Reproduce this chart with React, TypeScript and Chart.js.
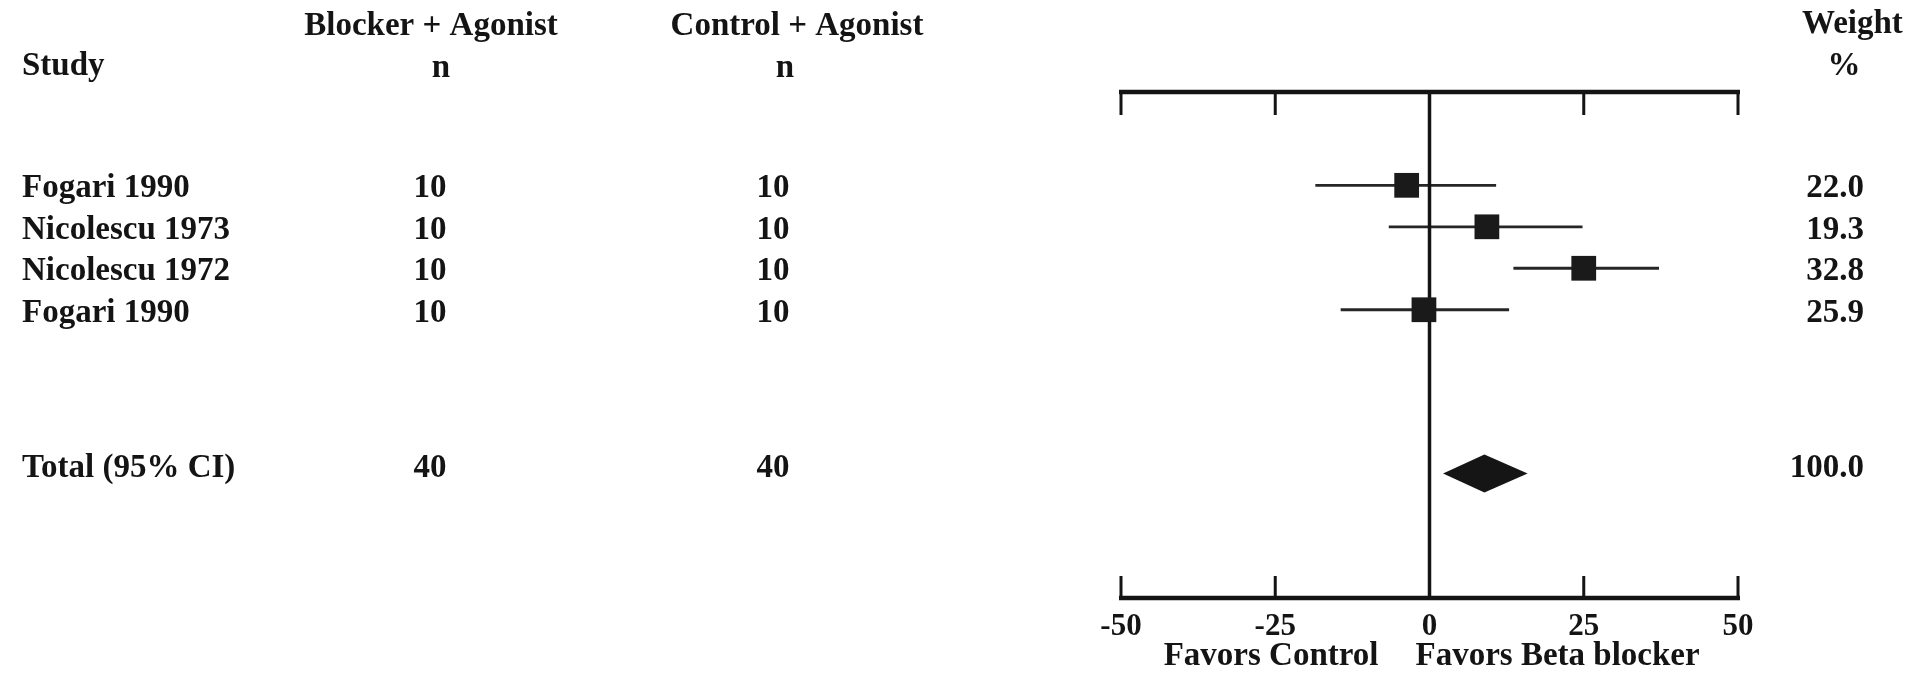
import React, { useEffect, useRef } from 'react';
import { Chart, registerables } from 'chart.js';

Chart.register(...registerables);

// ---- data ----
const studies = ['Fogari 1990', 'Nicolescu 1973', 'Nicolescu 1972', 'Fogari 1990'];
const blockerN = [10, 10, 10, 10];
const controlN = [10, 10, 10, 10];
const effect = [-3.7, 9.3, 25.0, -0.9];
const ciLow = [-18.5, -6.6, 13.6, -14.4];
const ciHigh = [10.8, 24.8, 37.2, 12.9];
const weights = ['22.0', '19.3', '32.8', '25.9'];
const rowSlots = [2.25, 3.25, 4.25, 5.25];

const totalLabel = 'Total (95% CI)';
const totalBlockerN = [40];
const totalControlN = [40];
const totalEffect = [8.9];
const totalLow = [2.2];
const totalHigh = [15.9];
const totalWeight = ['100.0'];
const totalSlot = [9.2];

const xTicks = [-50, -25, 0, 25, 50];
const headerCols = ['Study', 'Blocker + Agonist', 'Control + Agonist', 'Weight'];
const headerSub = ['n', 'n', '%'];
const favorLabels = ['Favors Control', 'Favors Beta blocker'];

const FONT = '"Liberation Serif", "Times New Roman", serif';
const INK = '#141414';

const forestPlugin = {
  id: 'forest',
  beforeDatasetsDraw(chart: any) {
    const { ctx, chartArea } = chart;
    const x = chart.scales.x;
    const y = chart.scales.y;
    ctx.save();
    // confidence intervals
    ctx.strokeStyle = '#262626';
    ctx.lineWidth = 2.8;
    studies.forEach((_, i) => {
      const py = y.getPixelForValue(rowSlots[i]);
      ctx.beginPath();
      ctx.moveTo(x.getPixelForValue(ciLow[i]), py);
      ctx.lineTo(x.getPixelForValue(ciHigh[i]), py);
      ctx.stroke();
    });
    const top = chartArea.top;
    const bottom = chartArea.bottom;
    const xa = x.getPixelForValue(xTicks[0]);
    const xb = x.getPixelForValue(xTicks[xTicks.length - 1]);
    ctx.strokeStyle = INK;
    // top and bottom axis lines
    ctx.lineWidth = 4.5;
    ctx.beginPath();
    ctx.moveTo(xa - 2, top);
    ctx.lineTo(xb + 2, top);
    ctx.moveTo(xa - 2, bottom);
    ctx.lineTo(xb + 2, bottom);
    ctx.stroke();
    // tick marks
    ctx.lineWidth = 3;
    ctx.beginPath();
    xTicks.forEach((t) => {
      if (t === 0) return;
      const px = x.getPixelForValue(t);
      ctx.moveTo(px, top);
      ctx.lineTo(px, top + 23);
      ctx.moveTo(px, bottom);
      ctx.lineTo(px, bottom - 22);
    });
    ctx.stroke();
    // zero line
    const zx = x.getPixelForValue(0);
    ctx.lineWidth = 3.5;
    ctx.beginPath();
    ctx.moveTo(zx, top);
    ctx.lineTo(zx, bottom);
    ctx.stroke();
    ctx.restore();
  },
  afterDatasetsDraw(chart: any) {
    const { ctx } = chart;
    const x = chart.scales.x;
    const y = chart.scales.y;
    ctx.save();
    // pooled diamond
    const cy = y.getPixelForValue(totalSlot[0]);
    const xl = x.getPixelForValue(totalLow[0]);
    const xr = x.getPixelForValue(totalHigh[0]);
    const xc = x.getPixelForValue(totalEffect[0]);
    ctx.fillStyle = '#151515';
    ctx.beginPath();
    ctx.moveTo(xl, cy);
    ctx.lineTo(xc, cy - 19);
    ctx.lineTo(xr, cy);
    ctx.lineTo(xc, cy + 19);
    ctx.closePath();
    ctx.fill();
    ctx.restore();
  },
  afterDraw(chart: any) {
    const { ctx, chartArea } = chart;
    const x = chart.scales.x;
    const y = chart.scales.y;
    ctx.save();
    ctx.fillStyle = INK;
    ctx.textBaseline = 'alphabetic';
    ctx.font = `bold 33px ${FONT}`;
    // headers
    ctx.textAlign = 'left';
    ctx.fillText(headerCols[0], 22, 75);
    ctx.textAlign = 'center';
    ctx.fillText(headerCols[1], 431, 35);
    ctx.fillText(headerSub[0], 441, 77);
    ctx.fillText(headerCols[2], 797, 35);
    ctx.fillText(headerSub[1], 785, 77);
    ctx.textAlign = 'left';
    ctx.fillText(headerCols[3], 1802, 33);
    ctx.textAlign = 'center';
    ctx.fillText(headerSub[2], 1844, 75);
    // study rows
    studies.forEach((s, i) => {
      const by = y.getPixelForValue(rowSlots[i]) + 12;
      ctx.textAlign = 'left';
      ctx.fillText(s, 22, by);
      ctx.textAlign = 'center';
      ctx.fillText(String(blockerN[i]), 430, by);
      ctx.fillText(String(controlN[i]), 773, by);
      ctx.textAlign = 'right';
      ctx.fillText(weights[i], 1864, by);
    });
    // total row
    const ty = y.getPixelForValue(totalSlot[0]) + 3;
    ctx.textAlign = 'left';
    ctx.fillText(totalLabel, 22, ty);
    ctx.textAlign = 'center';
    ctx.fillText(String(totalBlockerN[0]), 430, ty);
    ctx.fillText(String(totalControlN[0]), 773, ty);
    ctx.textAlign = 'right';
    ctx.fillText(totalWeight[0], 1864, ty);
    // tick labels
    ctx.font = `bold 31px ${FONT}`;
    ctx.textAlign = 'center';
    xTicks.forEach((t) => {
      ctx.fillText(String(t), x.getPixelForValue(t), chartArea.bottom + 37);
    });
    // favours labels
    ctx.font = `bold 33px ${FONT}`;
    const zx = x.getPixelForValue(0);
    ctx.textAlign = 'right';
    ctx.fillText(favorLabels[0], zx - 51, chartArea.bottom + 67);
    ctx.textAlign = 'left';
    ctx.fillText(favorLabels[1], zx - 14, chartArea.bottom + 67);
    ctx.restore();
  },
};

export default function App() {
  const canvasRef = useRef<HTMLCanvasElement | null>(null);

  useEffect(() => {
    if (!canvasRef.current) return;
    const chart = new Chart(canvasRef.current, {
      type: 'scatter',
      data: {
        datasets: [
          {
            data: effect.map((v, i) => ({ x: v, y: rowSlots[i] })),
            pointStyle: 'rect',
            pointRadius: 17.5,
            pointHoverRadius: 17.5,
            backgroundColor: '#1a1a1a',
            borderWidth: 0,
            showLine: false,
          },
        ],
      },
      options: {
        responsive: false,
        animation: false,
        events: [],
        layout: { padding: { left: 1121, right: 177, top: 92, bottom: 78 } },
        scales: {
          x: { type: 'linear', min: -50, max: 50, display: false },
          y: { type: 'linear', min: 0, max: 12.2, reverse: true, display: false },
        },
        plugins: { legend: { display: false }, tooltip: { enabled: false } },
      },
      plugins: [forestPlugin],
    });
    return () => chart.destroy();
  }, []);

  return (
    <div style={{ position: 'fixed', left: 0, top: 0, width: 1915, height: 676, background: '#fff' }}>
      <canvas ref={canvasRef} width={1915} height={676} style={{ display: 'block', width: 1915, height: 676 }} />
    </div>
  );
}
